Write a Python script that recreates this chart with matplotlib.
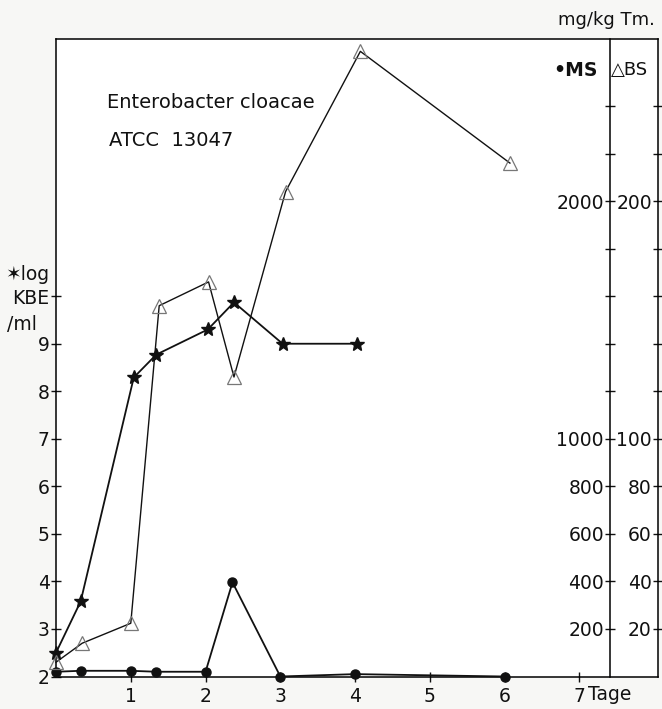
import matplotlib
matplotlib.use("Agg")
import matplotlib.pyplot as plt

plt.rcParams['font.family'] = ['DejaVu Sans']

# log KBE/ml (stars, left axis)
kbe_days = [0, 0.33, 1.04, 1.34, 2.03, 2.38, 3.03, 4.03]
kbe_vals = [2.5, 3.58, 8.29, 8.77, 9.30, 9.87, 9.0, 9.0]

# MS mg/kg Tm. (filled circles, inner right axis)
ms_days = [0, 0.33, 1.0, 1.34, 2.0, 2.36, 3.0, 4.0, 6.0]
ms_vals = [20, 24, 24, 20, 20, 396, 0, 10, 0]

# BS mg/kg Tm. (open triangles, outer right axis)
bs_days = [0, 0.35, 1.0, 1.38, 2.04, 2.38, 3.07, 4.07, 6.07]
bs_vals = [6, 14, 22.4, 156, 166, 126, 204, 263, 216]

left_ticks = [2, 3, 4, 5, 6, 7, 8, 9, 10]
left_labels = ['2', '3', '4', '5', '6', '7', '8', '9', 'KBE']
x_ticks = [1, 2, 3, 4, 5, 6, 7]
ms_ticks = list(range(200, 2401, 200))
ms_labeled = {200: '200', 400: '400', 600: '600', 800: '800', 1000: '1000', 2000: '2000'}
bs_ticks = list(range(20, 241, 20))
bs_labeled = {20: '20', 40: '40', 60: '60', 80: '80', 100: '100', 200: '200'}

W, H = 662, 709
FS = 13.5
fig = plt.figure(figsize=(W / 100, H / 100), dpi=100)
left_px, right_px, top_px, bot_px = 56, 658, 39, 676.5
ax = fig.add_axes([left_px / W, 1 - bot_px / H, (right_px - left_px) / W, (bot_px - top_px) / H])

XMAX = 8.05
YMIN, YMAX = 2, 15.41
inner_x = 7.41

ax.set_xlim(0, XMAX)
ax.set_ylim(YMIN, YMAX)
for s in ax.spines.values():
    s.set_linewidth(1.1)
ax.spines['right'].set_visible(False)

ax.set_yticks(left_ticks)
ax.set_yticklabels(left_labels)
ax.set_xticks(x_ticks)
ax.set_xticklabels([str(t) for t in x_ticks])
ax.tick_params(axis='both', direction='inout', length=7, width=1.0, labelsize=FS, colors='#111111')
ax.tick_params(axis='y', pad=1)
ax.tick_params(axis='x', pad=4)

ax.plot(kbe_days, kbe_vals, color='#111111', lw=1.3, marker='*', ms=10,
        mfc='#111111', mec='#111111', clip_on=False, zorder=5)

frac = inner_x / XMAX
ax_ms = ax.twinx()
ax_ms.set_ylim(0, (YMAX - YMIN) * 200)
ax_bs = ax.twinx()
ax_bs.set_ylim(0, (YMAX - YMIN) * 20)

for a, pos, ticks, labeled in [(ax_ms, frac, ms_ticks, ms_labeled), (ax_bs, 1.0, bs_ticks, bs_labeled)]:
    for k in ['top', 'bottom', 'right']:
        a.spines[k].set_visible(False)
    a.spines['left'].set_visible(True)
    a.spines['left'].set_position(('axes', pos))
    a.spines['left'].set_linewidth(1.1)
    a.yaxis.set_ticks_position('left')
    a.yaxis.set_label_position('left')
    a.set_yticks(ticks)
    a.set_yticklabels([labeled.get(t, '') for t in ticks])
    a.tick_params(axis='y', direction='inout', length=7, width=1.0, labelsize=FS, pad=1, colors='#111111')
    a.patch.set_visible(False)

ax_ms.plot(ms_days, ms_vals, color='#111111', lw=1.3, marker='o', ms=6.5,
           mfc='#111111', mec='#111111', clip_on=False, zorder=5)
ax_bs.plot(bs_days, bs_vals, color='#111111', lw=1.0, marker='^', ms=10,
           mfc='none', mec='#777777', mew=0.9, clip_on=False, zorder=5)

# texts
fig.text(107 / W, 1 - 103 / H, 'Enterobacter cloacae', fontsize=FS + 0.5, ha='left', va='center', color='#111111')
fig.text(109 / W, 1 - 140 / H, 'ATCC  13047', fontsize=FS + 0.5, ha='left', va='center', color='#111111')
fig.text(5 / W, 1 - 274 / H, '\u2736log', fontsize=FS, ha='left', va='center', color='#111111')
fig.text(7 / W, 1 - 325 / H, '/ml', fontsize=FS, ha='left', va='center', color='#111111')
fig.text(655 / W, 1 - 20 / H, 'mg/kg Tm.', fontsize=FS - 0.5, ha='right', va='center', color='#111111')
fig.text(598 / W, 1 - 70 / H, '\u2022MS', fontsize=FS, ha='right', va='center', color='#111111', fontweight='bold')
fig.text(611 / W, 1 - 70 / H, '\u25b3BS', fontsize=FS - 0.5, ha='left', va='center', color='#111111')
fig.text(588 / W, 1 - 695 / H, 'Tage', fontsize=FS, ha='left', va='center', color='#111111')

fig.savefig('out.png', dpi=100, facecolor='#f7f7f5')
